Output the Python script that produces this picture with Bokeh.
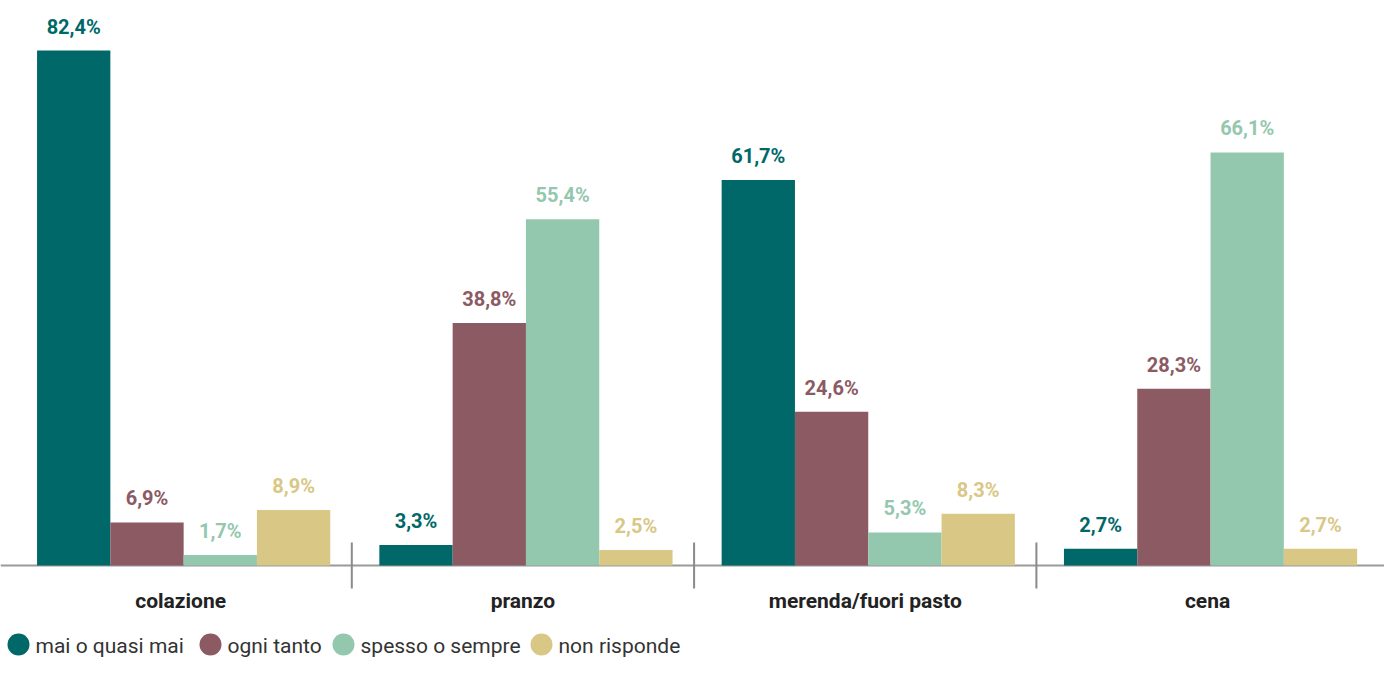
from bokeh.plotting import figure
from bokeh.models import Range1d, Span, ColumnDataSource
from bokeh.core.properties import value
from bokeh.embed import file_html
from bokeh.resources import INLINE

categories = ["colazione", "pranzo", "merenda/fuori pasto", "cena"]
series = ["mai o quasi mai", "ogni tanto", "spesso o sempre", "non risponde"]
mai_o_quasi_mai = [82.4, 3.3, 61.7, 2.7]
ogni_tanto = [6.9, 38.8, 24.6, 28.3]
spesso_o_sempre = [1.7, 55.4, 5.3, 66.1]
non_risponde = [8.9, 2.5, 8.3, 2.7]
colors = ["#006868", "#8b5a62", "#94c8ae", "#d9c786"]

values = [mai_o_quasi_mai, ogni_tanto, spesso_o_sempre, non_risponde]

# pixel layout helpers (image pixel coordinates)
W, H = 1384, 657
PX_PER_CAT = 342.3
X0 = 9.0            # x of category boundary 0
BASE = 565.0        # y of baseline
PX_PER_UNIT = 6.25

def dx(px):
    return (px - X0) / PX_PER_CAT

def dy(py):
    return (BASE - py) / PX_PER_UNIT

p = figure(width=W, height=H, output_backend="svg", toolbar_location=None,
           x_axis_type=None, y_axis_type=None,
           x_range=Range1d(dx(0), dx(W)), y_range=Range1d(dy(H), dy(0)),
           min_border=0, min_border_left=0, min_border_right=0,
           min_border_top=0, min_border_bottom=0)
p.outline_line_color = None
p.grid.visible = False
p.background_fill_color = "white"

# baseline
p.add_layout(Span(location=0, dimension="width", line_color="#9a9a9a",
                  line_width=2, level="underlay"))

bar_w = 73.3 / PX_PER_CAT
shift = 3.0 / PX_PER_CAT
for j, (name, vals, col) in enumerate(zip(series, values, colors)):
    xs = [i + 0.5 + (j - 1.5) * bar_w + shift for i in range(len(categories))]
    labels = [f"{v:.1f}%".replace(".", ",") for v in vals]
    src = ColumnDataSource(dict(x=xs, top=vals, label=labels))
    p.vbar(x="x", top="top", bottom=0, width=bar_w, source=src,
           fill_color=col, line_color=None)
    p.text(x="x", y="top", text="label", source=src, text_color=col,
           text_font=value("Roboto"), text_font_style="bold",
           text_font_size="20px", text_align="center",
           text_baseline="middle", y_offset=-24)

# separators between categories
sep_x = [i for i in range(1, len(categories))]
p.segment(x0=sep_x, x1=sep_x, y0=[dy(542)] * len(sep_x),
          y1=[dy(588)] * len(sep_x), line_color="#8a8a8a", line_width=2)

# category labels
p.text(x=[i + 0.5 for i in range(len(categories))],
       y=[dy(600)] * len(categories), text=categories,
       text_color="#222222", text_font=value("Roboto"),
       text_font_style="bold", text_font_size="21px",
       text_align="center", text_baseline="middle")

# legend
leg_circle_x = [18, 210, 343, 541]
leg_text_x = [35, 227, 360, 558]
leg_y = 644
p.scatter(x=[dx(v) for v in leg_circle_x], y=[dy(leg_y)] * 4, size=22,
          marker="circle", fill_color=colors, line_color=None)
p.text(x=[dx(v) for v in leg_text_x], y=[dy(leg_y + 1)] * 4, text=series,
       text_color="#333333", text_font=value("Roboto"),
       text_font_size="21px", text_align="left", text_baseline="middle")

open("out.html", "w").write(file_html(p, INLINE))
